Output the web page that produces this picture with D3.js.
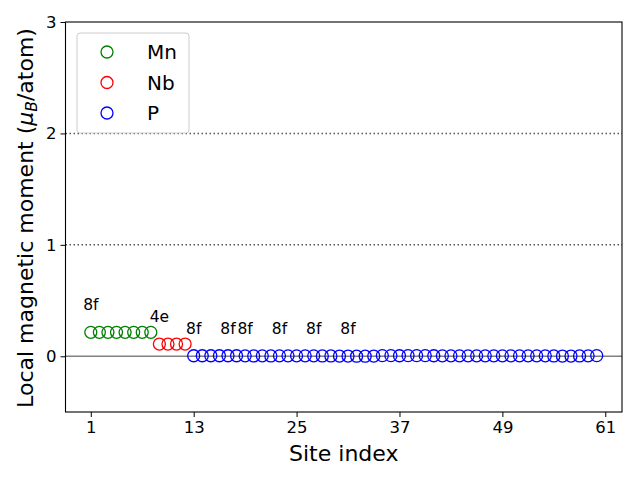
<!DOCTYPE html>
<html><head><meta charset="utf-8">
<script src="https://cdn.jsdelivr.net/npm/d3@7"></script>
<style>body{margin:0;background:#fff}svg{display:block;font-family:"DejaVu Sans",sans-serif}</style>
</head><body>
<svg id="c" width="640" height="480"></svg>
<script>
const species = ["Mn", "Nb", "P"];
const colors = ["green", "red", "blue"];
const mnSites = [1,2,3,4,5,6,7,8];
const mnValues = [0.215,0.215,0.215,0.215,0.215,0.215,0.215,0.215];
const nbSites = [9,10,11,12];
const nbValues = [0.11,0.11,0.11,0.11];
const pSites = [13,14,15,16,17,18,19,20,21,22,23,24,25,26,27,28,29,30,31,32,33,34,35,36,37,38,39,40,41,42,43,44,45,46,47,48,49,50,51,52,53,54,55,56,57,58,59,60];
const pValues = [0.005,0.005,0.005,0.005,0.005,0.005,0.004,0.003,0.004,0.003,0.004,0.004,0.004,0.004,0.004,0.003,0.003,0.002,0.002,0.001,0.001,0.002,0.006,0.006,0.005,0.006,0.006,0.006,0.005,0.004,0.004,0.004,0.004,0.004,0.004,0.004,0.004,0.004,0.004,0.004,0.004,0.004,0.003,0.002,0.002,0.003,0.004,0.006];
const labelSites = [1, 9, 13, 17, 19, 23, 27, 31];
const labelValues = [0.215, 0.11, 0, 0, 0, 0, 0, 0];
const labelTexts = ["8f", "4e", "8f", "8f", "8f", "8f", "8f", "8f"];
const xTicks = [1, 13, 25, 37, 49, 61];
const yTicks = [0, 1, 2, 3];
const refLines = [1, 2];

const svg = d3.select("#c");
const L = 65.5, R = 622, T = 22, B = 412;
const x = d3.scaleLinear().domain([-1.95, 62.95]).range([L, R]);
const y = d3.scaleLinear().domain([-0.5, 3]).range([B, T]);

// reference lines
svg.selectAll("line.ref").data(refLines).enter().append("line")
  .attr("x1", L).attr("x2", R).attr("y1", d => y(d)).attr("y2", d => y(d))
  .attr("stroke", "#555").attr("stroke-width", 1.5).attr("stroke-dasharray", "1.5,2.5");
svg.append("line").attr("x1", L).attr("x2", R).attr("y1", y(0)).attr("y2", y(0))
  .attr("stroke", "#808080").attr("stroke-width", 1.5);

const groups = [[mnSites, mnValues], [nbSites, nbValues], [pSites, pValues]];
groups.forEach((g, gi) => {
  svg.append("g").selectAll("circle").data(g[0]).enter().append("circle")
    .attr("cx", d => x(d)).attr("cy", (d, i) => y(g[1][i])).attr("r", 6)
    .attr("fill", "none").attr("stroke", colors[gi]).attr("stroke-width", 1.3);
});

// annotations
svg.append("g").selectAll("text").data(labelSites).enter().append("text")
  .attr("x", d => x(d)).attr("y", (d, i) => y(labelValues[i] + 0.2))
  .attr("text-anchor", "middle").attr("font-size", 15.5).attr("fill", "#000")
  .text((d, i) => labelTexts[i]);

// axes
const xAxis = svg.append("g").attr("transform", `translate(0,${B})`)
  .call(d3.axisBottom(x).tickValues(xTicks).tickSize(5).tickPadding(4).tickFormat(d3.format("d")));
const yAxis = svg.append("g").attr("transform", `translate(${L},0)`)
  .call(d3.axisLeft(y).tickValues(yTicks).tickSize(5).tickPadding(4).tickFormat(d3.format("d")));
[xAxis, yAxis].forEach(a => {
  a.select(".domain").remove();
  a.selectAll("text").attr("font-size", 16.5).attr("font-family", "DejaVu Sans").attr("fill", "#000");
  a.selectAll("line").attr("stroke", "#000").attr("stroke-width", 1);
});
svg.append("rect").attr("x", L).attr("y", T).attr("width", R - L).attr("height", B - T)
  .attr("fill", "none").attr("stroke", "#000").attr("stroke-width", 1.1);

// axis labels
svg.append("text").attr("x", (L + R) / 2).attr("y", 461).attr("text-anchor", "middle")
  .attr("font-size", 22).text("Site index");
const yl = svg.append("text").attr("transform", `translate(33,${(T + B) / 2 + 1}) rotate(-90)`)
  .attr("text-anchor", "middle").attr("font-size", 22);
yl.append("tspan").text("Local magnetic moment (");
yl.append("tspan").attr("font-style", "italic").text("μ");
yl.append("tspan").attr("font-style", "italic").attr("font-size", 15.5).attr("dy", 4).text("B");
yl.append("tspan").attr("dy", -4).text("/atom)");

// legend
const lg = svg.append("g");
lg.append("rect").attr("x", 77).attr("y", 33).attr("width", 112).attr("height", 100)
  .attr("rx", 3).attr("fill", "#fff").attr("fill-opacity", 0.8).attr("stroke", "#ccc").attr("stroke-width", 1);
species.forEach((s, i) => {
  const cy = 52 + i * 30.5;
  lg.append("circle").attr("cx", 107).attr("cy", cy).attr("r", 6)
    .attr("fill", "none").attr("stroke", colors[i]).attr("stroke-width", 1.3);
  lg.append("text").attr("x", 147).attr("y", cy + 7).attr("font-size", 20).text(s);
});
</script>
</body></html>
